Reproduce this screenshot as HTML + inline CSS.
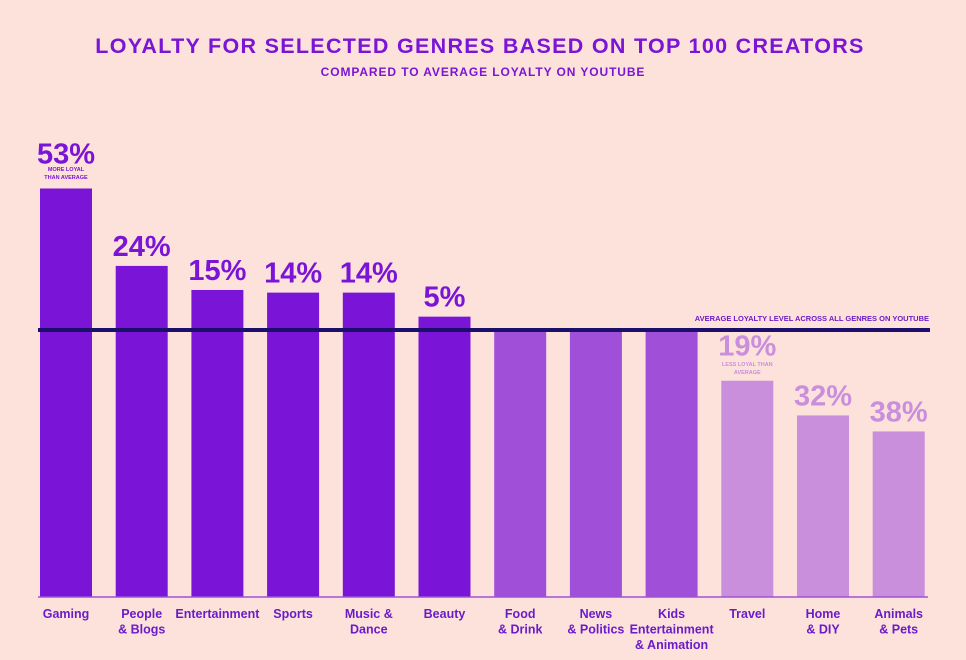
<!DOCTYPE html>
<html><head><meta charset="utf-8"><style>
html,body{margin:0;padding:0;background:#fde2dc;}
svg{display:block;font-family:"Liberation Sans",sans-serif;}
</style></head><body>
<svg id="chart" width="966" height="660" viewBox="0 0 966 660">
<rect width="966" height="660" fill="#fde2dc"/>
<text x="480" y="53" text-anchor="middle" font-size="21.5" font-weight="bold" fill="#7a14d6" letter-spacing="1.3">LOYALTY FOR SELECTED GENRES BASED ON TOP 100 CREATORS</text>
<text x="483" y="76" text-anchor="middle" font-size="12" font-weight="bold" fill="#7a14d6" letter-spacing="0.9">COMPARED TO AVERAGE LOYALTY ON YOUTUBE</text>
<g id="bars"></g>
</svg>
<script>
const categories=[["Gaming"],["People","& Blogs"],["Entertainment"],["Sports"],["Music &","Dance"],["Beauty"],["Food","& Drink"],["News","& Politics"],["Kids","Entertainment","& Animation"],["Travel"],["Home","& DIY"],["Animals","& Pets"]];
const values=[53,24,15,14,14,5,0,0,0,-19,-32,-38];
const valueLabels=["53%","24%","15%","14%","14%","5%","","","","19%","32%","38%"];
const NS="http://www.w3.org/2000/svg";
const g=document.getElementById('bars');
const base=597, avgY=330;
const y=v=>base-(base-avgY)*(100+v)/100;
const x=i=>40+i*75.7;
const bw=52;
function el(t,a){const e=document.createElementNS(NS,t);for(const k in a)e.setAttribute(k,a[k]);g.appendChild(e);return e;}
values.forEach((v,i)=>{
  const col=v>0?"#7a14d6":(v===0?"#a050d8":"#c98edc");
  const r=el('rect',{x:x(i),y:y(v),width:bw,height:base-y(v),fill:col});
  
  
  const cx=x(i)+bw/2;
  if(valueLabels[i]){
    const off=(i===0||i===9)?25:10;
    const t=el('text',{x:cx,y:y(v)-off,'text-anchor':'middle','font-size':29,'font-weight':'bold',fill:v>0?"#7a14d6":"#c98edc"});
    t.textContent=valueLabels[i];
    
    
  }
  categories[i].forEach((ln,j)=>{
    const t=el('text',{x:cx,y:618+j*15.5,'text-anchor':'middle','font-size':12.5,'font-weight':'bold',fill:"#6a1cc8"});
    t.textContent=ln;
    
    
  });
});
[["MORE LOYAL",0,171],["THAN AVERAGE",0,179]].forEach(n=>{const t=el('text',{x:x(n[1])+bw/2,y:n[2],'text-anchor':'middle','font-size':5.5,'font-weight':'bold',fill:"#7a14d6"});t.textContent=n[0];});
[["LESS LOYAL THAN",9,366],["AVERAGE",9,374]].forEach(n=>{const t=el('text',{x:x(n[1])+bw/2,y:n[2],'text-anchor':'middle','font-size':5.5,'font-weight':'bold',fill:"#c98edc"});t.textContent=n[0];});
const bl=el('line',{x1:38,x2:928,y1:base,y2:base,stroke:"#a050d8","stroke-width":1.5});


const al=el('line',{x1:38,x2:930,y1:avgY,y2:avgY,stroke:"#1c0f6b","stroke-width":4});


const at=el('text',{x:929,y:321,'text-anchor':'end','font-size':7.5,'font-weight':'bold',fill:"#6a1cc8"});
at.textContent="AVERAGE LOYALTY LEVEL ACROSS ALL GENRES ON YOUTUBE";


</script>
</body></html>
